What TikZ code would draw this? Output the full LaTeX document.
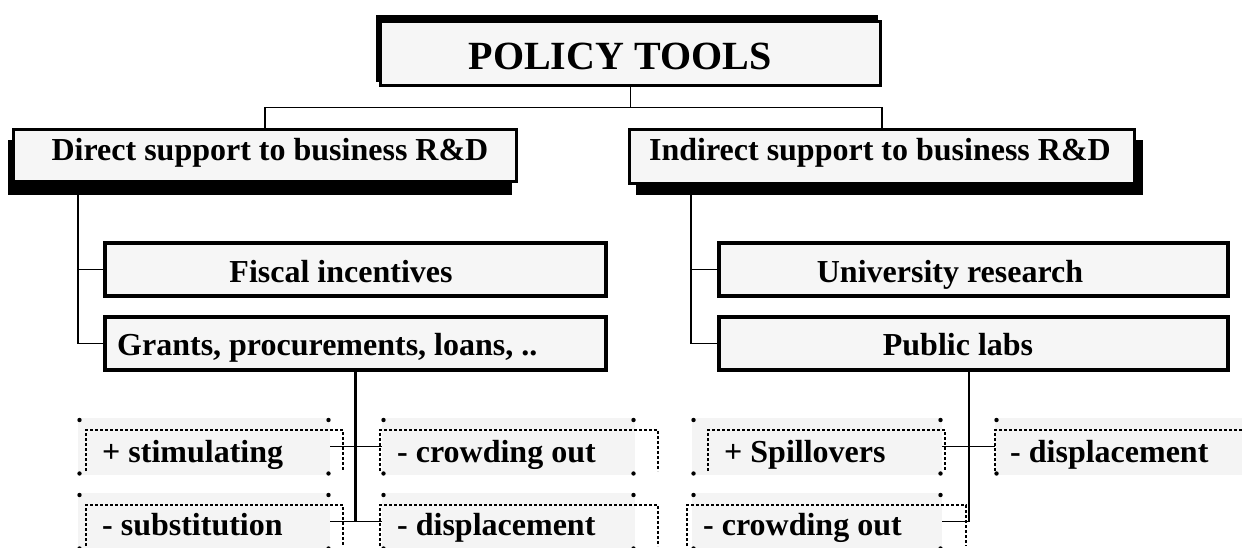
\documentclass[tikz,border=0pt]{standalone}
\usepackage{fontspec}
\setmainfont{Liberation Serif}
\definecolor{boxfill}{HTML}{F6F6F6}
\definecolor{tagfill}{HTML}{F4F4F4}
\newcommand\dashframe[3]{\draw[dframe] ([shift={(#2,-4)}]#1.south west) -- ([shift={(#2,12)}]#1.north west) -- ([shift={(#3,12)}]#1.north east) -- ([shift={(#3,-4)}]#1.south east);}
\newcommand\tagdots[1]{%
  \fill ([shift={(1.5,2)}]#1.north west) circle[radius=2.2pt];
  \fill ([shift={(-1.5,2)}]#1.north east) circle[radius=2.2pt];
  \fill ([shift={(1.5,-1.5)}]#1.south west) circle[radius=2.2pt];
  \fill ([shift={(-1.5,-1.5)}]#1.south east) circle[radius=2.2pt];}
\begin{document}
\begin{tikzpicture}[x=1pt,y=-1pt,
  boxtext/.style={font=\fontsize{32}{38}\selectfont\bfseries, inner sep=0pt, anchor=base},
  titletext/.style={font=\fontsize{40}{48}\selectfont\bfseries, inner sep=0pt, anchor=base},
  mainbox/.style={draw=black, fill=boxfill, line width=4pt, inner sep=0pt, outer sep=0pt, minimum height=53pt},
  topbox/.style={draw=black, fill=boxfill, line width=3pt, inner sep=0pt, outer sep=0pt},
  shadowbox/.style={fill=black, inner sep=0pt, outer sep=0pt},
  tagbox/.style={fill=tagfill, inner sep=0pt, outer sep=0pt, minimum height=57pt},
  conn/.style={draw=black, line width=1.5pt},
  thickconn/.style={draw=black, line width=2.5pt},
  dframe/.style={draw=black, line width=1.6pt, dash pattern=on 3pt off 2pt}
]
\useasboundingbox (0,0) rectangle (1242,548);
\clip (0,0) rectangle (1242,548);

% ---- top box
\node[shadowbox, minimum width=502pt, minimum height=67pt] (tshadow) at (627,48.5) {};
\node[topbox, line width=2.5pt, minimum width=500pt, minimum height=64pt] (title) at (630.5,53.5) {};
\node[titletext] (titlelabel) at (620,70) {POLICY TOOLS};

% ---- second level
\node[shadowbox, minimum width=504pt, minimum height=55pt] (dshadow) at (260,167.5) {};
\node[topbox, minimum width=503pt, minimum height=52pt] (direct) at (265,155.5) {};
\node[boxtext] (directlabel) at (270,161) {Direct support to business R\&D};

\node[shadowbox, minimum width=507pt, minimum height=55pt] (ishadow) at (889.5,167.5) {};
\node[topbox, minimum width=505pt, minimum height=54pt] (indirect) at (882,156.5) {};
\node[boxtext] (indirectlabel) at (880,161) {Indirect support to business R\&D};

% ---- third level
\node[mainbox, minimum width=501pt] (fiscal) at (355.5,269.5) {};
\node[boxtext] (fiscallabel) at (341,282) {Fiscal incentives};
\node[mainbox, minimum width=501pt] (grants) at (355.5,343.5) {};
\node[boxtext, anchor=base west] (grantslabel) at (117,355) {Grants, procurements, loans, ..};
\node[mainbox, minimum width=509pt] (univ) at (973.5,269.5) {};
\node[boxtext] (univlabel) at (950,282) {University research};
\node[mainbox, minimum width=509pt] (public) at (973.5,343.5) {};
\node[boxtext] (publiclabel) at (958,355) {Public labs};

% ---- effect tags
\node[tagbox, minimum width=252pt] (stim) at (204,446.5) {};
\node[tagbox, minimum width=253pt] (crowdA) at (508.5,446.5) {};
\node[tagbox, minimum width=252pt] (subst) at (204,521.5) {};
\node[tagbox, minimum width=253pt] (displA) at (508.5,521.5) {};
\node[tagbox, minimum width=250pt] (spill) at (817,446.5) {};
\node[tagbox, minimum width=250pt] (crowdB) at (817,521.5) {};
\node[tagbox, minimum width=257pt] (displB) at (1123.5,446.5) {};

\dashframe{stim}{8}{13}
\dashframe{crowdA}{-2}{23}
\dashframe{subst}{8}{13}
\dashframe{displA}{-2}{23}
\dashframe{spill}{16}{3}
\dashframe{crowdB}{-5}{24}
\dashframe{displB}{0}{30}

\tagdots{stim}
\tagdots{crowdA}
\tagdots{subst}
\tagdots{displA}
\tagdots{spill}
\tagdots{crowdB}
\tagdots{displB}

\node[boxtext, anchor=base west] (stimlabel) at (102,462) {+ stimulating};
\node[boxtext, anchor=base west] (crowdAlabel) at (397,462) {- crowding out};
\node[boxtext, anchor=base west] (substlabel) at (102,535) {- substitution};
\node[boxtext, anchor=base west] (displAlabel) at (397,535) {- displacement};
\node[boxtext, anchor=base west] (spilllabel) at (724,462) {+ Spillovers};
\node[boxtext, anchor=base west] (crowdBlabel) at (703,535) {- crowding out};
\node[boxtext, anchor=base west] (displBlabel) at (1010,462) {- displacement};

% ---- connectors
\draw[conn] (title.south) -- ++(0,22) coordinate (hub);
\draw[conn] (direct.north) |- (hub) -| (indirect.north);

\coordinate (ls) at ([xshift=70pt]dshadow.south west);
\draw[conn] (ls) |- (fiscal.west);
\draw[conn] (ls) |- (grants.west);
\coordinate (rs) at ([xshift=55pt]ishadow.south west);
\draw[conn] (rs) |- (univ.west);
\draw[conn] (rs) |- (public.west);

\draw[thickconn] (grants.south) -- (grants.south |- subst.east);
\draw[conn] (stim.east) -- (crowdA.west);
\draw[conn] (subst.east) -- (displA.west);

\coordinate (pv) at ([xshift=-4.5pt]public.south);
\draw[thickconn] (pv) -- (pv |- crowdB.east);
\draw[conn] (pv |- crowdB.east) -- (crowdB.east);
\draw[conn] (spill.east) -- (displB.west);
\end{tikzpicture}
\end{document}
